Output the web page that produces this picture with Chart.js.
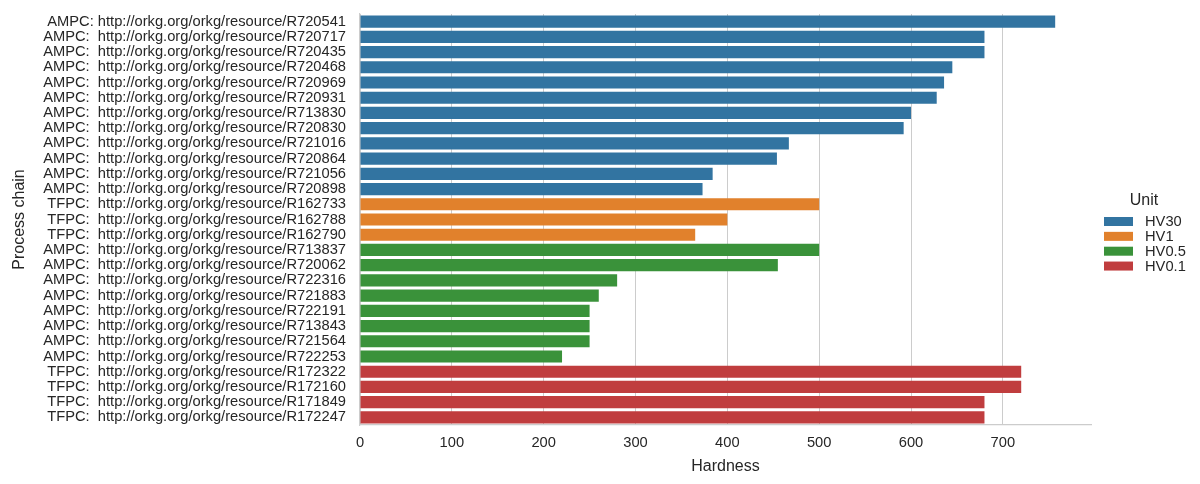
<!DOCTYPE html>
<html>
<head>
<meta charset="utf-8">
<script src="https://cdn.jsdelivr.net/npm/chart.js@4"></script>
<style>
  html, body { margin: 0; padding: 0; background: #fff; }
  #wrap { width: 1200px; height: 484px; }
</style>
</head>
<body>
<div id="wrap"><canvas id="hardnessChart" width="1200" height="484"></canvas></div>
<script>
// Data
const processChains = [
    'AMPC: http://orkg.org/orkg/resource/R720541',
    'AMPC:  http://orkg.org/orkg/resource/R720717',
    'AMPC:  http://orkg.org/orkg/resource/R720435',
    'AMPC:  http://orkg.org/orkg/resource/R720468',
    'AMPC:  http://orkg.org/orkg/resource/R720969',
    'AMPC:  http://orkg.org/orkg/resource/R720931',
    'AMPC:  http://orkg.org/orkg/resource/R713830',
    'AMPC:  http://orkg.org/orkg/resource/R720830',
    'AMPC:  http://orkg.org/orkg/resource/R721016',
    'AMPC:  http://orkg.org/orkg/resource/R720864',
    'AMPC:  http://orkg.org/orkg/resource/R721056',
    'AMPC:  http://orkg.org/orkg/resource/R720898',
    'TFPC:  http://orkg.org/orkg/resource/R162733',
    'TFPC:  http://orkg.org/orkg/resource/R162788',
    'TFPC:  http://orkg.org/orkg/resource/R162790',
    'AMPC:  http://orkg.org/orkg/resource/R713837',
    'AMPC:  http://orkg.org/orkg/resource/R720062',
    'AMPC:  http://orkg.org/orkg/resource/R722316',
    'AMPC:  http://orkg.org/orkg/resource/R721883',
    'AMPC:  http://orkg.org/orkg/resource/R722191',
    'AMPC:  http://orkg.org/orkg/resource/R713843',
    'AMPC:  http://orkg.org/orkg/resource/R721564',
    'AMPC:  http://orkg.org/orkg/resource/R722253',
    'TFPC:  http://orkg.org/orkg/resource/R172322',
    'TFPC:  http://orkg.org/orkg/resource/R172160',
    'TFPC:  http://orkg.org/orkg/resource/R171849',
    'TFPC:  http://orkg.org/orkg/resource/R172247'
];
const hardness = [757, 680, 680, 645, 636, 628, 600, 592, 467, 454, 384, 373,
                  500, 400, 365,
                  500, 455, 280, 260, 250, 250, 250, 220,
                  720, 720, 680, 680];
const units = ['HV30', 'HV30', 'HV30', 'HV30', 'HV30', 'HV30', 'HV30', 'HV30', 'HV30', 'HV30', 'HV30', 'HV30',
               'HV1', 'HV1', 'HV1',
               'HV0.5', 'HV0.5', 'HV0.5', 'HV0.5', 'HV0.5', 'HV0.5', 'HV0.5', 'HV0.5',
               'HV0.1', 'HV0.1', 'HV0.1', 'HV0.1'];
const unitOrder = ['HV30', 'HV1', 'HV0.5', 'HV0.1'];
const xTicks = [0, 100, 200, 300, 400, 500, 600, 700];

const unitColors = {
    'HV30': '#3274a1',
    'HV1': '#e1812c',
    'HV0.5': '#3a923a',
    'HV0.1': '#c03d3e'
};

const FONT = '"Liberation Sans", Arial, sans-serif';
const TEXT = '#262626';

// one dataset per unit, empty where the row belongs to another unit
const datasets = unitOrder.map(u => ({
    label: u,
    data: hardness.map((v, i) => units[i] === u ? v : null),
    backgroundColor: unitColors[u],
    borderWidth: 0,
    grouped: false,
    barPercentage: 0.8,
    categoryPercentage: 1.0
}));

// legend drawn by hand so it sits where seaborn put it
const unitLegend = {
    id: 'unitLegend',
    afterDraw(chart) {
        const ctx = chart.ctx;
        ctx.save();
        ctx.fillStyle = TEXT;
        ctx.textBaseline = 'middle';
        ctx.textAlign = 'center';
        ctx.font = '16px ' + FONT;
        ctx.fillText('Unit', 1144, 201);
        ctx.textAlign = 'left';
        ctx.font = '14.7px ' + FONT;
        unitOrder.forEach((u, i) => {
            const y = 221.5 + i * 14.85;
            ctx.fillStyle = unitColors[u];
            ctx.fillRect(1104, y - 4.5, 29, 9);
            ctx.fillStyle = TEXT;
            ctx.fillText(u, 1145, y + 0.5);
        });
        ctx.restore();
    }
};

new Chart(document.getElementById('hardnessChart').getContext('2d'), {
    type: 'bar',
    data: { labels: processChains, datasets: datasets },
    plugins: [unitLegend],
    options: {
        indexAxis: 'y',
        responsive: false,
        animation: false,
        layout: { padding: { top: 14, right: 109, left: 0, bottom: 0 } },
        plugins: {
            legend: { display: false },
            tooltip: { enabled: false }
        },
        scales: {
            x: {
                min: 0,
                max: 796,
                afterBuildTicks: scale => {
                    scale.ticks = xTicks.map(v => ({ value: v }));
                },
                afterFit: scale => {
                    scale.height = 59;
                    scale.paddingLeft = 0;
                    scale.paddingRight = 0;
                },
                grid: { color: '#cccccc', lineWidth: 1, drawTicks: false },
                border: { color: '#cccccc', width: 1.2 },
                ticks: { color: TEXT, font: { family: FONT, size: 14.7 }, padding: 9 },
                title: {
                    display: true,
                    text: 'Hardness',
                    color: TEXT,
                    font: { family: FONT, size: 16 },
                    padding: { top: 0, bottom: 8 }
                }
            },
            y: {
                afterFit: scale => {
                    scale.width = 360;
                    scale.paddingTop = 0;
                    scale.paddingBottom = 0;
                },
                grid: { display: false, drawTicks: false },
                border: { color: '#cccccc', width: 1.2 },
                ticks: {
                    color: TEXT,
                    font: { family: FONT, size: 14.7 },
                    padding: 14,
                    autoSkip: false
                },
                title: {
                    display: true,
                    text: 'Process chain',
                    color: TEXT,
                    font: { family: FONT, size: 16 },
                    padding: { top: 10, bottom: 0 }
                }
            }
        }
    }
});
</script>
</body>
</html>
